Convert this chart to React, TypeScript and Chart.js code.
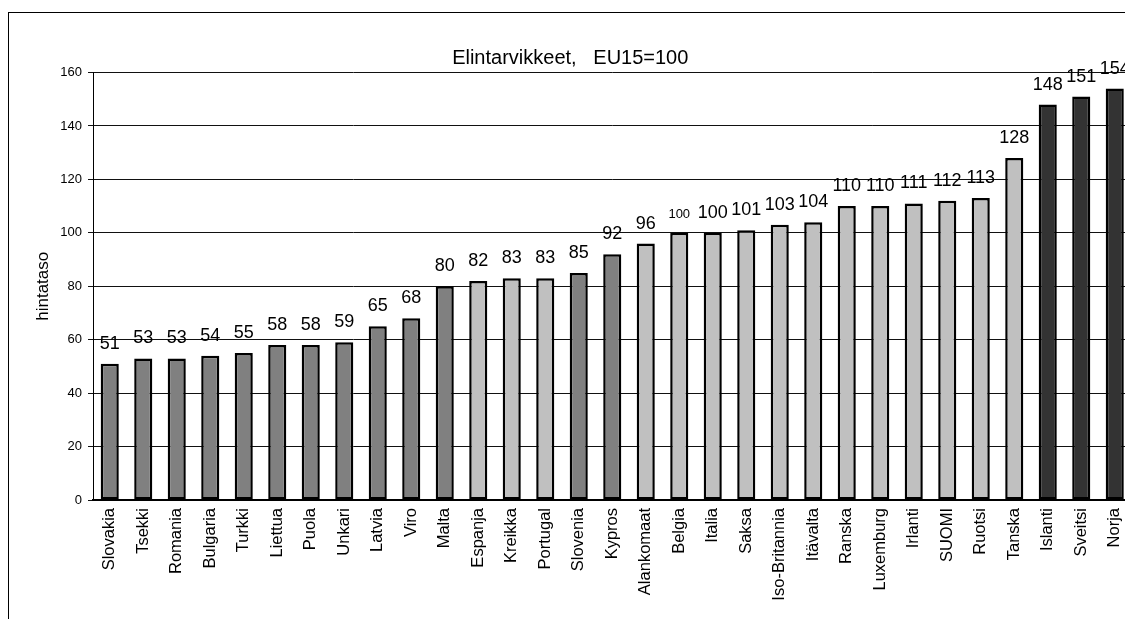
import React, { useEffect, useRef } from "react";
import { Chart, registerables } from "chart.js";

Chart.register(...registerables);

const categories = [
  "Slovakia", "Tsekki", "Romania", "Bulgaria", "Turkki", "Liettua", "Puola", "Unkari",
  "Latvia", "Viro", "Malta", "Espanja", "Kreikka", "Portugal", "Slovenia", "Kypros",
  "Alankomaat", "Belgia", "Italia", "Saksa", "Iso-Britannia", "Itävalta", "Ranska",
  "Luxemburg", "Irlanti", "SUOMI", "Ruotsi", "Tanska", "Islanti", "Sveitsi", "Norja",
];

const values = [
  51, 53, 53, 54, 55, 58, 58, 59, 65, 68, 80, 82, 83, 83, 85, 92,
  96, 100, 100, 101, 103, 104, 110, 110, 111, 112, 113, 128, 148, 151, 154,
];

// country group: "new" = new members / candidates, "eu15" = old members, "efta" = non-EU
const groups = [
  "new", "new", "new", "new", "new", "new", "new", "new", "new", "new", "new",
  "eu15", "eu15", "eu15", "new", "new",
  "eu15", "eu15", "eu15", "eu15", "eu15", "eu15", "eu15", "eu15", "eu15", "eu15", "eu15", "eu15",
  "efta", "efta", "efta",
];

const yTicks = [0, 20, 40, 60, 80, 100, 120, 140, 160];

const TITLE = "Elintarvikkeet,   EU15=100";
const Y_TITLE = "hintataso";
const SMALL_LABEL_CATEGORY = "Belgia";

const FONT = '"Liberation Sans", Arial, Helvetica, sans-serif';
const groupColors: Record<string, string> = {
  new: "#808080",
  eu15: "#C0C0C0",
  efta: "#333333",
};

const CANVAS_W = 1140;
const CANVAS_H = 620;

const valueLabelsPlugin = {
  id: "valueLabels",
  afterDatasetsDraw(chart: any) {
    const ctx = chart.ctx;
    const meta = chart.getDatasetMeta(0);
    ctx.save();
    ctx.fillStyle = "#000";
    ctx.textAlign = "center";
    ctx.textBaseline = "alphabetic";
    meta.data.forEach((bar: any, i: number) => {
      const size = categories[i] === SMALL_LABEL_CATEGORY ? 13 : 18;
      ctx.font = `${size}px ${FONT}`;
      ctx.fillText(String(values[i]), bar.x, bar.y - 15);
    });
    ctx.restore();
  },
};

export default function App() {
  const ref = useRef<HTMLCanvasElement | null>(null);

  useEffect(() => {
    if (!ref.current) return;
    const chart = new Chart(ref.current, {
      type: "bar",
      data: {
        labels: categories,
        datasets: [
          {
            data: values,
            backgroundColor: groups.map((g) => groupColors[g]),
            borderColor: "#000",
            borderWidth: 2.5,
            borderSkipped: false,
            barPercentage: 0.54,
            categoryPercentage: 1,
          },
        ],
      },
      options: {
        responsive: false,
        animation: false,
        devicePixelRatio: 1,
        layout: { padding: { left: 0, right: CANVAS_W - 1122.5, top: 0, bottom: 0 } },
        plugins: {
          legend: { display: false },
          tooltip: { enabled: false },
          title: {
            display: true,
            text: TITLE,
            color: "#000",
            font: { family: FONT, size: 20, weight: "normal" },
            padding: { top: 33, bottom: 2.5 },
          },
        },
        scales: {
          x: {
            grid: { display: false, drawTicks: false, tickLength: 0 },
            border: { display: true, color: "#000", width: 2 },
            ticks: {
              autoSkip: false,
              minRotation: 90,
              maxRotation: 90,
              padding: 8,
              color: "#000",
              font: { family: FONT, size: 16.5 },
            },
            afterFit: (scale: any) => {
              scale.height = 133;
            },
          },
          y: {
            min: 0,
            max: 160,
            afterBuildTicks: (scale: any) => {
              scale.ticks = yTicks.map((v) => ({ value: v }));
            },
            grid: { color: "#111", lineWidth: 1, tickLength: 5, drawTicks: true },
            border: { display: true, color: "#000", width: 1 },
            ticks: {
              padding: 6,
              color: "#000",
              font: { family: FONT, size: 13 },
            },
            title: {
              display: true,
              text: Y_TITLE,
              color: "#000",
              font: { family: FONT, size: 17 },
              padding: { top: 24, bottom: 0 },
            },
            afterFit: (scale: any) => {
              scale.width = 84;
            },
          },
        },
      },
      plugins: [valueLabelsPlugin],
    });
    return () => chart.destroy();
  }, []);

  return (
    <div
      style={{
        position: "fixed",
        left: 0,
        top: 0,
        width: 1125,
        height: 619,
        overflow: "hidden",
        background: "#fff",
      }}
    >
      <div
        style={{
          position: "absolute",
          left: 8,
          top: 12,
          width: 1300,
          height: 800,
          border: "1px solid #000",
          boxSizing: "border-box",
        }}
      />
      <canvas
        ref={ref}
        width={CANVAS_W}
        height={CANVAS_H}
        style={{ position: "absolute", left: 9, top: 13, width: CANVAS_W, height: CANVAS_H }}
      />
    </div>
  );
}
